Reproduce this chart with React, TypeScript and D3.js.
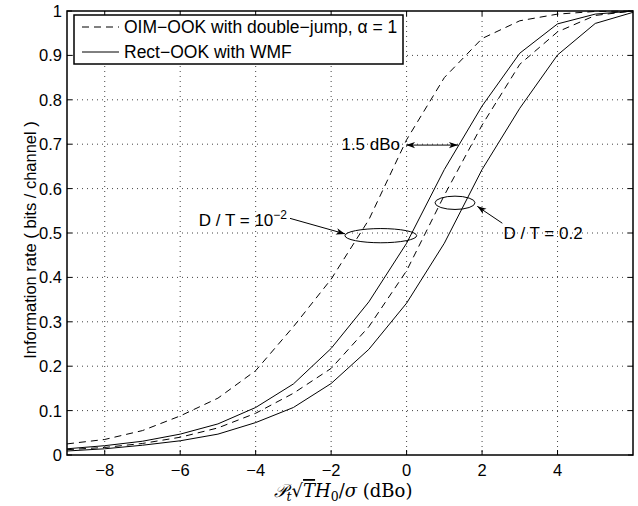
import React from "react";
import * as d3 from "d3";

const snr = [-9, -8, -7, -6, -5, -4, -3, -2, -1, 0, 1, 2, 3, 4, 5, 6];
// OIM-OOK with double-jump, D/T = 1e-2 (dashed, left)
const oimSmall = [0.025, 0.035, 0.055, 0.088, 0.128, 0.19, 0.289, 0.396, 0.53, 0.71, 0.85, 0.938, 0.978, 0.993, 0.999, 1.0];
// Rect-OOK with WMF, D/T = 1e-2 (solid, left)
const rectSmall = [0.014, 0.021, 0.031, 0.047, 0.07, 0.107, 0.16, 0.24, 0.345, 0.477, 0.643, 0.786, 0.905, 0.971, 0.993, 1.0];
// OIM-OOK with double-jump, D/T = 0.2 (dashed, right)
const oimLarge = [0.012, 0.017, 0.026, 0.04, 0.061, 0.094, 0.139, 0.195, 0.289, 0.415, 0.585, 0.743, 0.88, 0.953, 0.99, 1.0];
// Rect-OOK with WMF, D/T = 0.2 (solid, right)
const rectLarge = [0.009, 0.014, 0.022, 0.032, 0.047, 0.073, 0.107, 0.161, 0.238, 0.342, 0.477, 0.643, 0.781, 0.901, 0.972, 0.997];

const xTicks = [-8, -6, -4, -2, 0, 2, 4];
const xTickLabels = ["\u22128", "\u22126", "\u22124", "\u22122", "0", "2", "4"];
const yTicks = [0, 0.1, 0.2, 0.3, 0.4, 0.5, 0.6, 0.7, 0.8, 0.9, 1];
const yTickLabels = ["0", "0.1", "0.2", "0.3", "0.4", "0.5", "0.6", "0.7", "0.8", "0.9", "1"];
const legendLabels = ["OIM\u2212OOK with double\u2212jump, \u03b1 = 1", "Rect\u2212OOK with WMF"];

const W = 638, H = 506;
const L = 67, R = 633, T = 11, B = 455;
const FONT = "'Liberation Sans', Arial, Helvetica, sans-serif";

export default function App() {
  const x = d3.scaleLinear().domain([-9, 6]).range([L, R]);
  const y = d3.scaleLinear().domain([0, 1]).range([B, T]);
  const line = d3.line<number>().x((_, i) => x(snr[i])).y((v) => y(v));

  const series = [
    { vals: oimSmall, dash: "7,5" },
    { vals: rectSmall, dash: null },
    { vals: oimLarge, dash: "7,5" },
    { vals: rectLarge, dash: null },
  ];

  const tick = 5;
  const gridStyle = { stroke: "#444", strokeWidth: 1, strokeDasharray: "1,4" };

  return (
    <svg width={W} height={H} style={{ position: "absolute", left: 0, top: 0, background: "#fff" }} fontFamily={FONT}>
      <defs>
        <marker id="ah" viewBox="-10 -5 12 10" refX="0" refY="0" markerWidth="12" markerHeight="10" markerUnits="userSpaceOnUse" orient="auto-start-reverse">
          <path d="M0,0 L-9,-3.2 L-6.5,0 L-9,3.2 Z" fill="#000" />
        </marker>
      </defs>
      <rect x={0} y={0} width={W} height={H} fill="#fff" />
      {/* grid */}
      {xTicks.map((t) => (
        <line key={"gx" + t} x1={x(t)} x2={x(t)} y1={T} y2={B} {...gridStyle} />
      ))}
      {yTicks.filter((t) => t > 0 && t < 1).map((t) => (
        <line key={"gy" + t} x1={L} x2={R} y1={y(t)} y2={y(t)} {...gridStyle} />
      ))}
      {/* curves */}
      {series.map((s, i) => (
        <path key={i} d={line(s.vals) || ""} fill="none" stroke="#000" strokeWidth={1} strokeDasharray={s.dash || undefined} />
      ))}
      {/* ticks */}
      {xTicks.map((t) => (
        <g key={"tx" + t}>
          <line x1={x(t)} x2={x(t)} y1={B} y2={B - tick} stroke="#000" />
          <line x1={x(t)} x2={x(t)} y1={T} y2={T + tick} stroke="#000" />
        </g>
      ))}
      {yTicks.map((t) => (
        <g key={"ty" + t}>
          <line x1={L} x2={L + tick} y1={y(t)} y2={y(t)} stroke="#000" />
          <line x1={R} x2={R - tick} y1={y(t)} y2={y(t)} stroke="#000" />
        </g>
      ))}
      {/* frame */}
      <rect x={L} y={T} width={R - L} height={B - T} fill="none" stroke="#000" strokeWidth={1.5} />
      {/* tick labels */}
      {xTicks.map((t, i) => (
        <text key={"lx" + t} x={x(t)} y={B + 21} textAnchor="middle" fontSize={16.5}>
          {xTickLabels[i]}
        </text>
      ))}
      {yTicks.map((t, i) => (
        <text key={"ly" + t} x={L - 5} y={y(t) + 6} textAnchor="end" fontSize={16.5}>
          {yTickLabels[i]}
        </text>
      ))}
      {/* axis labels */}
      <text transform={`translate(36, ${(T + B) / 2 + 7}) rotate(-90)`} textAnchor="middle" fontSize={16.5}>
        Information rate ( bits / channel )
      </text>
      <text x={343} y={497} textAnchor="middle" fontSize={18} fontFamily="'DejaVu Serif', 'Liberation Serif', serif">
        <tspan fontStyle="italic">𝒫</tspan>
        <tspan fontSize={12.5} dy={4} fontStyle="italic">t</tspan>
        <tspan dy={-4}>√</tspan>
        <tspan fontStyle="italic" textDecoration="overline">T</tspan>
        <tspan fontStyle="italic">H</tspan>
        <tspan fontSize={12.5} dy={4}>0</tspan>
        <tspan dy={-4}>/</tspan>
        <tspan fontStyle="italic">σ</tspan>
        <tspan> (dBo)</tspan>
      </text>
      {/* legend */}
      <rect x={74} y={15} width={329} height={49} fill="#fff" stroke="#000" strokeWidth={1.5} />
      {legendLabels.map((lab, i) => {
        const cy = 27 + i * 25;
        return (
          <g key={"lg" + i}>
            <line x1={82} x2={119} y1={cy} y2={cy} stroke="#000" strokeWidth={1} strokeDasharray={i === 0 ? "7,5" : undefined} />
            <text x={124} y={cy + 6} fontSize={17.5}>{lab}</text>
          </g>
        );
      })}
      {/* annotations */}
      <ellipse cx={x(-0.683)} cy={y(0.494)} rx={x(0.95) - x(0)} ry={y(0) - y(0.016)} fill="none" stroke="#000" strokeWidth={1} />
      <ellipse cx={x(1.283)} cy={y(0.568)} rx={x(0.53) - x(0)} ry={y(0) - y(0.015)} fill="none" stroke="#000" strokeWidth={1} />
      <line x1={x(-0.015)} y1={y(0.698)} x2={x(1.36)} y2={y(0.698)} stroke="#000" strokeWidth={1} markerStart="url(#ah)" markerEnd="url(#ah)" />
      <text x={x(-0.174)} y={y(0.687)} textAnchor="end" fontSize={17}>1.5 dBo</text>
      <line x1={x(2.537)} y1={y(0.522)} x2={x(1.874)} y2={y(0.56)} stroke="#000" strokeWidth={1} markerEnd="url(#ah)" />
      <text x={x(2.565)} y={y(0.486)} fontSize={17}>D / T = 0.2</text>
      <line x1={x(-3.09)} y1={y(0.533)} x2={x(-1.63)} y2={y(0.498)} stroke="#000" strokeWidth={1} markerEnd="url(#ah)" />
      <text x={x(-3.17)} y={y(0.516)} textAnchor="end" fontSize={17}>
        D / T = 10<tspan fontSize={12} dy={-7}>−2</tspan>
      </text>
    </svg>
  );
}
